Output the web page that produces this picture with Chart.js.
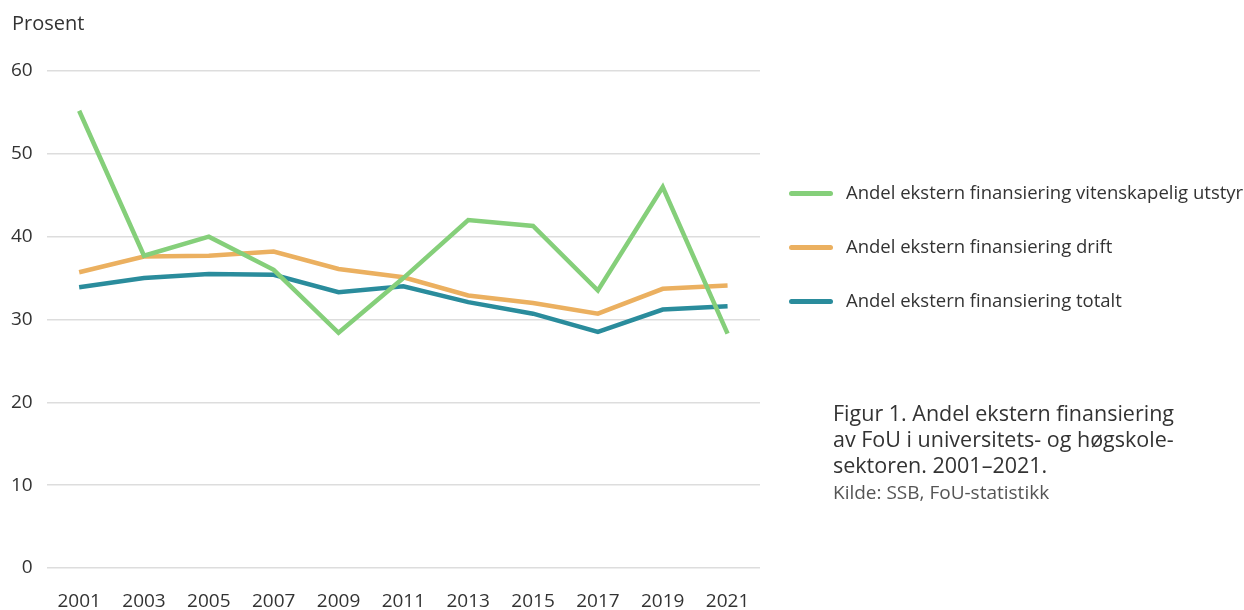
<!DOCTYPE html>
<html>
<head>
<meta charset="utf-8">
<script src="https://cdn.jsdelivr.net/npm/chart.js@4"></script>
<style>
  body { margin: 0; background: #fff; font-family: "Open Sans", sans-serif; color: #333; }
  #wrap { position: relative; width: 1244px; height: 610px; overflow: hidden; }
  #chart { position: absolute; left: 0; top: 0; }
  .ylab { position: absolute; left: 12px; top: 9px; font-size: 20px; color: #333; }
  #legend { position: absolute; left: 789px; top: 179px; white-space: nowrap; }
  .item { height: 54px; display: flex; align-items: flex-start; font-size: 18.5px; color: #333; }
  .swatch { width: 44px; height: 5px; border-radius: 3px; margin-top: 12px; margin-right: 13px; }
  #caption { position: absolute; left: 833px; top: 400px; font-size: 21.5px; line-height: 26px; color: #333; }
  #source { font-size: 19px; line-height: 28px; color: #555; }
</style>
</head>
<body>
<div id="wrap">
  <canvas id="chart" width="1244" height="610"></canvas>
  <div class="ylab">Prosent</div>
  <div id="legend"></div>
  <div id="caption">Figur 1. Andel ekstern finansiering<br>av FoU i universitets- og høgskole-<br>sektoren. 2001–2021.<div id="source">Kilde: SSB, FoU-statistikk</div></div>
</div>
<script>
// data
const years = ['2001', '2003', '2005', '2007', '2009', '2011', '2013', '2015', '2017', '2019', '2021'];
const utstyr = [55.2, 37.7, 40.0, 36.0, 28.4, 35.0, 42.0, 41.3, 33.5, 46.0, 28.3];
const drift = [35.7, 37.6, 37.7, 38.2, 36.1, 35.1, 32.9, 32.0, 30.7, 33.7, 34.1];
const totalt = [33.9, 35.0, 35.5, 35.4, 33.3, 34.0, 32.1, 30.7, 28.5, 31.2, 31.6];
const seriesNames = [
  'Andel ekstern finansiering vitenskapelig utstyr',
  'Andel ekstern finansiering drift',
  'Andel ekstern finansiering totalt'
];
const colors = ['#85cf7a', '#ebb060', '#2a8c9c'];

const datasets = [utstyr, drift, totalt].map((d, i) => ({
  label: seriesNames[i],
  data: d,
  borderColor: colors[i],
  backgroundColor: colors[i],
  borderWidth: 4.5,
  pointRadius: 0,
  tension: 0,
  fill: false
}));

// legend (html)
const legendEl = document.getElementById('legend');
seriesNames.forEach((name, i) => {
  const row = document.createElement('div');
  row.className = 'item';
  row.innerHTML = '<span class="swatch" style="background:' + colors[i] + '"></span>' + name;
  legendEl.appendChild(row);
});

Chart.defaults.font.family = '"Open Sans", sans-serif';
Chart.defaults.color = '#333';

new Chart(document.getElementById('chart').getContext('2d'), {
  type: 'line',
  data: { labels: years, datasets: datasets },
  options: {
    responsive: false,
    animation: false,
    layout: { padding: { left: -3, right: 484, top: 71, bottom: 0 } },
    plugins: { legend: { display: false }, tooltip: { enabled: false } },
    scales: {
      x: {
        offset: true,
        grid: { display: false, drawTicks: false },
        border: { display: false },
        ticks: { font: { size: 19 }, padding: 22, maxRotation: 0 },
        afterFit: (scale) => { scale.height = 42; }
      },
      y: {
        min: 0,
        max: 60,
        ticks: { stepSize: 10, font: { size: 19 }, padding: 14 },
        grid: { color: '#dddddd', lineWidth: 1.5, drawTicks: false },
        border: { display: false }
      }
    }
  }
});
</script>
</body>
</html>
